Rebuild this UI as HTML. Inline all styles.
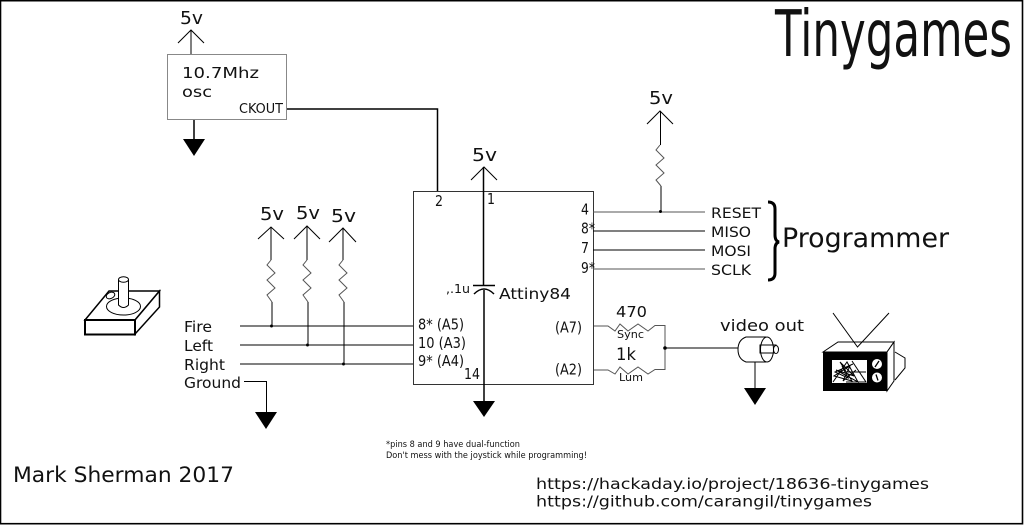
<!DOCTYPE html>
<html>
<head>
<meta charset="utf-8">
<style>
html,body{margin:0;padding:0;background:#fff}
svg{display:block}
text{font-family:"DejaVu Sans","Liberation Sans",sans-serif;fill:#111}
.w{fill:none;stroke:#000;stroke-width:1}
.g{fill:none;stroke:#555;stroke-width:1}
.t{fill:#000;stroke:none}
</style>
</head>
<body>
<svg width="1024" height="525" viewBox="0 0 1024 525" xmlns="http://www.w3.org/2000/svg">
<rect x="0" y="0" width="1024" height="525" fill="#fff"/>
<rect x="0.5" y="0.7" width="1022" height="523" fill="none" stroke="#000" stroke-width="1.6"/>

<text x="775" y="56" font-size="64" textLength="237" lengthAdjust="spacingAndGlyphs">Tinygames</text>

<!-- oscillator -->
<text x="180" y="24" font-size="18" textLength="23" lengthAdjust="spacingAndGlyphs">5v</text>
<path class="w" d="M178 43L191 30L204 43M191 30V54"/>
<rect x="167.5" y="54.5" width="119" height="65" fill="#fff" stroke="#888"/>
<text x="182" y="78" font-size="15" textLength="77" lengthAdjust="spacingAndGlyphs">10.7Mhz</text>
<text x="182" y="97" font-size="15" textLength="30" lengthAdjust="spacingAndGlyphs">osc</text>
<text x="239" y="113" font-size="13" textLength="44" lengthAdjust="spacingAndGlyphs">CKOUT</text>
<path d="M287 109H437.5V191" fill="none" stroke="#000" stroke-width="1.5"/>
<path d="M194 120V140" fill="none" stroke="#000" stroke-width="1.5"/>
<path class="t" d="M183 139H205L194 156Z"/>

<!-- chip -->
<rect x="413.5" y="191.5" width="180" height="193" fill="none" stroke="#333"/>
<text x="435" y="206" font-size="15.5" textLength="8" lengthAdjust="spacingAndGlyphs">2</text>
<text x="487" y="204" font-size="15" textLength="8" lengthAdjust="spacingAndGlyphs">1</text>
<text x="581" y="214.5" font-size="15.5" textLength="8" lengthAdjust="spacingAndGlyphs">4</text>
<text x="581" y="233.5" font-size="15.5" textLength="14" lengthAdjust="spacingAndGlyphs">8*</text>
<text x="581" y="253" font-size="15.5" textLength="8" lengthAdjust="spacingAndGlyphs">7</text>
<text x="581" y="273" font-size="15.5" textLength="14" lengthAdjust="spacingAndGlyphs">9*</text>
<text x="418" y="329.5" font-size="15" textLength="46" lengthAdjust="spacingAndGlyphs">8* (A5)</text>
<text x="418" y="348" font-size="15" textLength="48" lengthAdjust="spacingAndGlyphs">10 (A3)</text>
<text x="418" y="366" font-size="15" textLength="46" lengthAdjust="spacingAndGlyphs">9* (A4)</text>
<text x="464" y="379" font-size="15" textLength="16" lengthAdjust="spacingAndGlyphs">14</text>
<text x="555" y="332.5" font-size="15" textLength="27" lengthAdjust="spacingAndGlyphs">(A7)</text>
<text x="555" y="374.5" font-size="15" textLength="27" lengthAdjust="spacingAndGlyphs">(A2)</text>
<text x="499" y="299" font-size="15.5" textLength="72" lengthAdjust="spacingAndGlyphs">Attiny84</text>
<text x="446" y="293" font-size="12.5" textLength="24" lengthAdjust="spacingAndGlyphs">,.1u</text>

<!-- chip power -->
<text x="472" y="161" font-size="18" textLength="25" lengthAdjust="spacingAndGlyphs">5v</text>
<path class="w" d="M471 180L484 167L497 180"/>
<path d="M483.5 167V285M473 285.5H495M474 294Q484 284 494 294M484 290V402" fill="none" stroke="#000" stroke-width="1.5"/>
<path class="t" d="M473 401H495L484 417Z"/>

<!-- right pins -->
<path class="g" d="M593 212H705M593 269H705"/>
<path class="w" d="M593 231H705M593 250H705"/>
<text x="649" y="104" font-size="18" textLength="24" lengthAdjust="spacingAndGlyphs">5v</text>
<path class="w" d="M647 124L660 111L673 124M660.5 111V145M661 186V211"/>
<path class="g" d="M660 145L656 150L664 158L656 165L664 173L656 180L661 186"/>
<circle cx="660.5" cy="211.5" r="1.5" fill="#000"/>
<text x="711" y="218" font-size="14.5" textLength="50" lengthAdjust="spacingAndGlyphs">RESET</text>
<text x="711" y="237" font-size="14.5" textLength="40" lengthAdjust="spacingAndGlyphs">MISO</text>
<text x="711" y="256" font-size="14.5" textLength="40" lengthAdjust="spacingAndGlyphs">MOSI</text>
<text x="711" y="275" font-size="14.5" textLength="40" lengthAdjust="spacingAndGlyphs">SCLK</text>
<path d="M768 202Q775 202 775 209V235Q775 241 779 242Q775 243 775 249V273Q775 280 768 280" fill="none" stroke="#000" stroke-width="3"/>
<text x="782" y="247" font-size="27" textLength="167" lengthAdjust="spacingAndGlyphs">Programmer</text>

<!-- pull-ups left -->
<text x="260" y="220" font-size="18" textLength="24" lengthAdjust="spacingAndGlyphs">5v</text>
<text x="296" y="219" font-size="18" textLength="24" lengthAdjust="spacingAndGlyphs">5v</text>
<text x="331" y="222" font-size="18" textLength="25" lengthAdjust="spacingAndGlyphs">5v</text>
<path class="w" d="M258 239L271 227L284 239M294 239L307 226L320 239M329 242L343 228L356 242"/>
<path class="w" d="M271 227V260M272 302V326M307 226V260M308 302V345M343 228V260M344 302V364"/>
<path class="g" d="M271 260L267 265L275 273L267 280L275 288L267 295L272 302"/>
<path class="g" d="M307 260L303 265L311 273L303 280L311 288L303 295L308 302"/>
<path class="g" d="M343 260L339 265L347 273L339 280L347 288L339 295L344 302"/>
<path class="w" d="M240 326H413M240 345H413M240 364H413"/>
<circle cx="271.5" cy="326" r="1.5" fill="#000"/>
<circle cx="307.5" cy="345" r="1.5" fill="#000"/>
<circle cx="343.5" cy="364" r="1.5" fill="#000"/>
<text x="184" y="332" font-size="15" textLength="28" lengthAdjust="spacingAndGlyphs">Fire</text>
<text x="184" y="351" font-size="15" textLength="29" lengthAdjust="spacingAndGlyphs">Left</text>
<text x="184" y="370" font-size="15" textLength="41" lengthAdjust="spacingAndGlyphs">Right</text>
<text x="184" y="388" font-size="15" textLength="57" lengthAdjust="spacingAndGlyphs">Ground</text>
<path class="w" d="M244 381.5H266.5V412"/>
<path class="t" d="M255 412H277L266 429Z"/>

<!-- joystick -->
<path d="M85 320L109 291H159.5L135 320Z" fill="#fff" stroke="#000" stroke-width="1.5"/>
<path d="M135 334L159.5 307V291L135 320Z" fill="#fff" stroke="#000" stroke-width="1.5"/>
<rect x="85" y="320" width="50" height="14.5" fill="#fff" stroke="#000" stroke-width="2"/>
<ellipse cx="123.5" cy="306.5" rx="17" ry="8.5" fill="#fff" stroke="#000"/>
<ellipse cx="110.5" cy="295.5" rx="4.5" ry="3" transform="rotate(-25 110.5 295.5)" fill="#fff" stroke="#000"/>
<path d="M118.5 280V305Q123.5 310 128.5 305V280" fill="#fff" stroke="#000"/>
<ellipse cx="123.5" cy="279.5" rx="5" ry="2.8" fill="#fff" stroke="#000"/>

<!-- resistors to video -->
<text x="616" y="317" font-size="15" textLength="31" lengthAdjust="spacingAndGlyphs">470</text>
<text x="616" y="360" font-size="17" textLength="20" lengthAdjust="spacingAndGlyphs">1k</text>
<text x="617" y="338" font-size="10.5" textLength="27" lengthAdjust="spacingAndGlyphs">Sync</text>
<text x="619" y="381" font-size="10.5" textLength="24" lengthAdjust="spacingAndGlyphs">Lum</text>
<path class="g" d="M594 326H608L615 331L620 324L628 331L638 324L648 331L655 325.5H665V369.5H655L648 374L638 367L628 374L620 367L615 374L608 370H594"/>
<circle cx="665" cy="348" r="1.8" fill="#000"/>
<path class="w" d="M665 348H738"/>
<text x="720" y="331" font-size="16" textLength="84" lengthAdjust="spacingAndGlyphs">video out</text>

<!-- RCA connector -->
<path d="M766 337H746Q738 340 738 349.5Q738 359 746 362H766" fill="#fff" stroke="#000"/>
<rect x="760" y="345" width="16" height="8" fill="#fff" stroke="#000"/>
<ellipse cx="776" cy="349.5" rx="2.5" ry="4" fill="#fff" stroke="#000"/>
<ellipse cx="767" cy="349.5" rx="6.5" ry="12.5" fill="none" stroke="#000"/>
<path class="w" d="M755 362V388"/>
<path class="t" d="M744 388H766L755 405Z"/>

<!-- TV -->
<path d="M895 352L905 358V368L895 380" fill="#fff" stroke="#000"/>
<path d="M823 352L838 342H894L887 352Z" fill="#fff" stroke="#000"/>
<path d="M887 352L894 342V381L887 391Z" fill="#fff" stroke="#000"/>
<path class="w" d="M833 313L857.5 347L889 313"/>
<rect x="823" y="352" width="64" height="39" fill="#000"/>
<rect x="832" y="360" width="35" height="23" fill="#fff"/>
<path d="M833 382L847 362L858 382L836 370L854 376L840 362L852 381L834 376L850 366L843 381L856 370M842 366L848 378L835 372L853 364M866 372H848M852 361L866 382H846" fill="none" stroke="#000" stroke-width="1"/>
<circle cx="877" cy="364" r="5" fill="#fff"/>
<circle cx="877" cy="377.5" r="5" fill="#fff"/>
<path d="M875 367L879 361M876 374.5L878 380.5" stroke="#000" stroke-width="1.3"/>

<!-- notes -->
<text x="386" y="447" font-size="8.5" textLength="134" lengthAdjust="spacingAndGlyphs">*pins 8 and 9 have dual-function</text>
<text x="386" y="458" font-size="8.5" textLength="201" lengthAdjust="spacingAndGlyphs">Don't mess with the joystick while programming!</text>
<text x="13" y="482" font-size="21" textLength="221" lengthAdjust="spacingAndGlyphs">Mark Sherman 2017</text>
<text x="536" y="489" font-size="15" textLength="393" lengthAdjust="spacingAndGlyphs">https://hackaday.io/project/18636-tinygames</text>
<text x="536" y="506.5" font-size="15" textLength="336" lengthAdjust="spacingAndGlyphs">https://github.com/carangil/tinygames</text>
</svg>
</body>
</html>
